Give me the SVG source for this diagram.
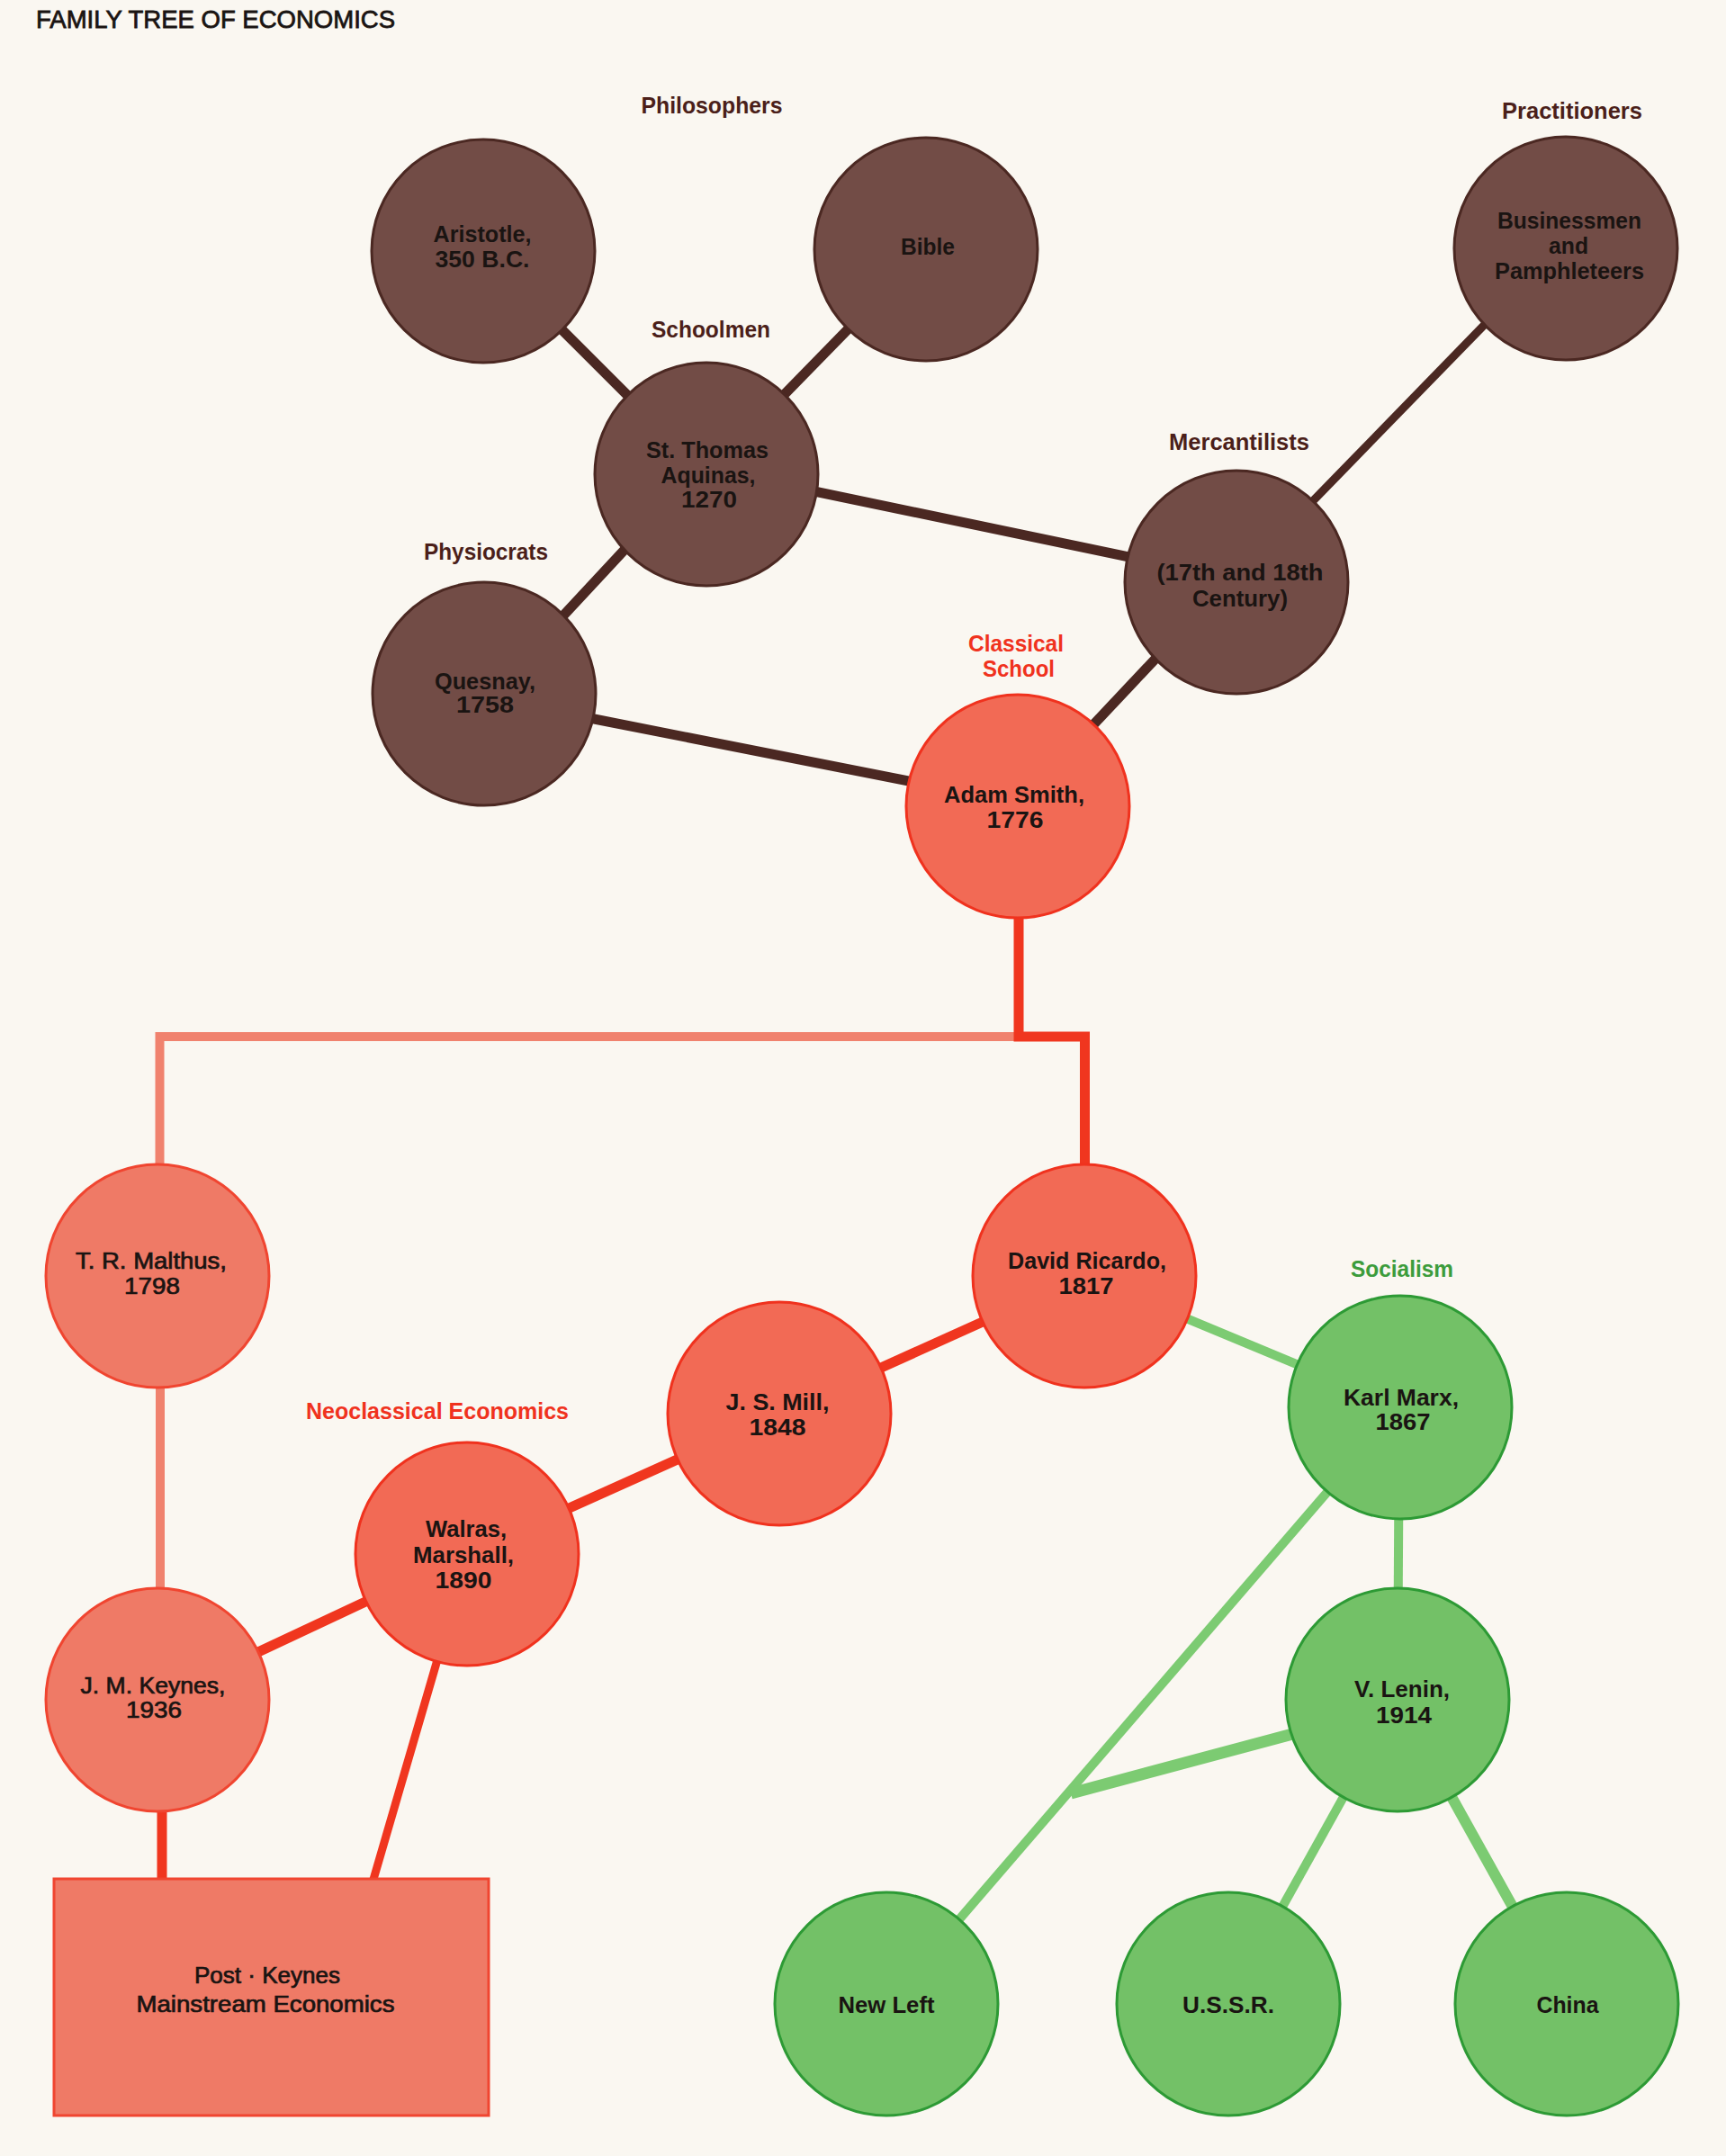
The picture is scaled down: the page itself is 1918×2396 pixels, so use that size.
<svg xmlns="http://www.w3.org/2000/svg" width="1918" height="2396" viewBox="0 0 1918 2396">
<style>
text{font-family:"Liberation Sans",Arial,sans-serif;font-weight:bold;text-anchor:middle}
.t{font-size:25px;fill:#1a1412}
.tn{font-size:25px;fill:#1a1412;font-weight:normal;stroke:#1a1412;stroke-width:0.7}
.lab{font-size:26px}
.lb{fill:#4b1f1a}
.lr{fill:#f0321e}
.lg{fill:#3c9c3c}
.nb{fill:#724c46;stroke:#4b2822;stroke-width:3}
.nr{fill:#f26a55;stroke:#f0321e;stroke-width:3}
.ns{fill:#ef7a66;stroke:#f04530;stroke-width:3}
.ng{fill:#73c167;stroke:#2d9a35;stroke-width:3}
.cb{stroke:#4b2822;stroke-width:11;fill:none}
.cr{stroke:#f0361f;stroke-width:11;fill:none}
.cs{stroke:#f0826e;stroke-width:10;fill:none}
.cg{stroke:#7ccb72;stroke-width:10;fill:none}
</style>
<rect width="1918" height="2396" fill="#faf7f1"/>
<text x="40" y="31" style="text-anchor:start;font-size:28px;fill:#1a1412;font-weight:normal;stroke:#1a1412;stroke-width:0.8" textLength="399" lengthAdjust="spacingAndGlyphs">FAMILY TREE OF ECONOMICS</text>

<g id="connectors">
<line class="cb" x1="537" y1="279" x2="785" y2="527"/>
<line class="cb" x1="1029" y1="277" x2="785" y2="527"/>
<line class="cb" x1="785" y1="521" x2="1374" y2="644"/>
<line class="cb" x1="1740" y1="268" x2="1374" y2="644" style="stroke-width:9"/>
<line class="cb" x1="1333" y1="680" x2="1173" y2="850"/>
<line class="cb" x1="720" y1="583" x2="600" y2="712"/>
<line class="cb" x1="640" y1="795" x2="1030" y2="872"/>
<path class="cs" d="M1132,1152 H177.5 V1300"/>
<path class="cr" d="M1132,1010 V1152 H1205.5 V1300"/>
<line class="cs" x1="178" y1="1530" x2="178" y2="1775"/>
<line class="cr" x1="1205" y1="1418" x2="866" y2="1571"/>
<line class="cr" x1="866" y1="1571" x2="519" y2="1727"/>
<line class="cr" x1="519" y1="1727" x2="174" y2="1889"/>
<line class="cr" x1="499" y1="1800" x2="414" y2="2092" style="stroke-width:9"/>
<line class="cr" x1="180" y1="2005" x2="180" y2="2092"/>
<line class="cg" x1="1205" y1="1418" x2="1556" y2="1564"/>
<line class="cg" x1="1555" y1="1564" x2="1553" y2="1889"/>
<line class="cg" x1="1556" y1="1564" x2="985" y2="2227"/>
<line class="cg" x1="1500" y1="1910" x2="1190" y2="1993" style="stroke-width:13"/>
<line class="cg" x1="1553" y1="1889" x2="1365" y2="2227"/>
<line class="cg" x1="1553" y1="1889" x2="1741" y2="2227" style="stroke-width:12"/>
</g>

<g id="labels">
<text class="lab lb" x="791" y="126" textLength="157" lengthAdjust="spacingAndGlyphs">Philosophers</text>
<text class="lab lb" x="790" y="375" textLength="132" lengthAdjust="spacingAndGlyphs">Schoolmen</text>
<text class="lab lb" x="540" y="622" textLength="138" lengthAdjust="spacingAndGlyphs">Physiocrats</text>
<text class="lab lb" x="1747" y="132" textLength="156" lengthAdjust="spacingAndGlyphs">Practitioners</text>
<text class="lab lb" x="1377" y="500" textLength="156" lengthAdjust="spacingAndGlyphs">Mercantilists</text>
<text class="lab lr" x="1129" y="724" textLength="106" lengthAdjust="spacingAndGlyphs">Classical</text>
<text class="lab lr" x="1132" y="752" textLength="80" lengthAdjust="spacingAndGlyphs">School</text>
<text class="lab lr" x="486" y="1577" textLength="292" lengthAdjust="spacingAndGlyphs">Neoclassical Economics</text>
<text class="lab lg" x="1558" y="1419" textLength="114" lengthAdjust="spacingAndGlyphs">Socialism</text>
</g>

<g id="aristotle"><circle class="nb" cx="537" cy="279" r="124"/>
<text class="t" x="536" y="269" textLength="109" lengthAdjust="spacingAndGlyphs">Aristotle,</text>
<text class="t" x="536" y="297" textLength="105" lengthAdjust="spacingAndGlyphs">350 B.C.</text></g>

<g id="bible"><circle class="nb" cx="1029" cy="277" r="124"/>
<text class="t" x="1031" y="283" textLength="60" lengthAdjust="spacingAndGlyphs">Bible</text></g>

<g id="businessmen"><circle class="nb" cx="1740" cy="276" r="124"/>
<text class="t" x="1744" y="254" textLength="160" lengthAdjust="spacingAndGlyphs">Businessmen</text>
<text class="t" x="1743" y="282" textLength="44" lengthAdjust="spacingAndGlyphs">and</text>
<text class="t" x="1744" y="310" textLength="166" lengthAdjust="spacingAndGlyphs">Pamphleteers</text></g>

<g id="aquinas"><circle class="nb" cx="785" cy="527" r="124"/>
<text class="t" x="786" y="509" textLength="136" lengthAdjust="spacingAndGlyphs">St. Thomas</text>
<text class="t" x="787" y="537" textLength="105" lengthAdjust="spacingAndGlyphs">Aquinas,</text>
<text class="t" x="788" y="564" textLength="62" lengthAdjust="spacingAndGlyphs">1270</text></g>

<g id="mercantilists"><circle class="nb" cx="1374" cy="647" r="124"/>
<text class="t" x="1378" y="645" textLength="185" lengthAdjust="spacingAndGlyphs">(17th and 18th</text>
<text class="t" x="1378" y="674" textLength="106" lengthAdjust="spacingAndGlyphs">Century)</text></g>

<g id="quesnay"><circle class="nb" cx="538" cy="771" r="124"/>
<text class="t" x="539" y="766" textLength="112" lengthAdjust="spacingAndGlyphs">Quesnay,</text>
<text class="t" x="539" y="792" textLength="64" lengthAdjust="spacingAndGlyphs">1758</text></g>

<g id="smith"><circle class="nr" cx="1131" cy="896" r="124"/>
<text class="t" x="1127" y="892" textLength="156" lengthAdjust="spacingAndGlyphs">Adam Smith,</text>
<text class="t" x="1128" y="920" textLength="63" lengthAdjust="spacingAndGlyphs">1776</text></g>

<g id="malthus"><circle class="ns" cx="175" cy="1418" r="124"/>
<text class="tn" x="168" y="1410" textLength="168" lengthAdjust="spacingAndGlyphs">T. R. Malthus,</text>
<text class="tn" x="169" y="1438" textLength="62" lengthAdjust="spacingAndGlyphs">1798</text></g>

<g id="ricardo"><circle class="nr" cx="1205" cy="1418" r="124"/>
<text class="t" x="1208" y="1410" textLength="176" lengthAdjust="spacingAndGlyphs">David Ricardo,</text>
<text class="t" x="1207" y="1438" textLength="61" lengthAdjust="spacingAndGlyphs">1817</text></g>

<g id="mill"><circle class="nr" cx="866" cy="1571" r="124"/>
<text class="t" x="864" y="1567" textLength="115" lengthAdjust="spacingAndGlyphs">J. S. Mill,</text>
<text class="t" x="864" y="1595" textLength="63" lengthAdjust="spacingAndGlyphs">1848</text></g>

<g id="walras"><circle class="nr" cx="519" cy="1727" r="124"/>
<text class="t" x="518" y="1708" textLength="90" lengthAdjust="spacingAndGlyphs">Walras,</text>
<text class="t" x="515" y="1737" textLength="112" lengthAdjust="spacingAndGlyphs">Marshall,</text>
<text class="t" x="515" y="1765" textLength="63" lengthAdjust="spacingAndGlyphs">1890</text></g>

<g id="marx"><circle class="ng" cx="1556" cy="1564" r="124"/>
<text class="t" x="1557" y="1562" textLength="128" lengthAdjust="spacingAndGlyphs">Karl Marx,</text>
<text class="t" x="1559" y="1589" textLength="61" lengthAdjust="spacingAndGlyphs">1867</text></g>

<g id="keynes"><circle class="ns" cx="175" cy="1889" r="124"/>
<text class="tn" x="170" y="1882" textLength="161" lengthAdjust="spacingAndGlyphs">J. M. Keynes,</text>
<text class="tn" x="171" y="1909" textLength="62" lengthAdjust="spacingAndGlyphs">1936</text></g>

<g id="lenin"><circle class="ng" cx="1553" cy="1889" r="124"/>
<text class="t" x="1558" y="1886" textLength="106" lengthAdjust="spacingAndGlyphs">V. Lenin,</text>
<text class="t" x="1560" y="1915" textLength="62" lengthAdjust="spacingAndGlyphs">1914</text></g>

<g id="postkeynes"><rect class="ns" x="60" y="2088" width="483" height="263"/>
<text class="tn" x="297" y="2204" textLength="162" lengthAdjust="spacingAndGlyphs">Post · Keynes</text>
<text class="tn" x="295" y="2236" textLength="287" lengthAdjust="spacingAndGlyphs">Mainstream Economics</text></g>

<g id="newleft"><circle class="ng" cx="985" cy="2227" r="124"/>
<text class="t" x="985" y="2237" textLength="107" lengthAdjust="spacingAndGlyphs">New Left</text></g>

<g id="ussr"><circle class="ng" cx="1365" cy="2227" r="124"/>
<text class="t" x="1365" y="2237" textLength="102" lengthAdjust="spacingAndGlyphs">U.S.S.R.</text></g>

<g id="china"><circle class="ng" cx="1741" cy="2227" r="124"/>
<text class="t" x="1742" y="2237" textLength="69" lengthAdjust="spacingAndGlyphs">China</text></g>
</svg>
